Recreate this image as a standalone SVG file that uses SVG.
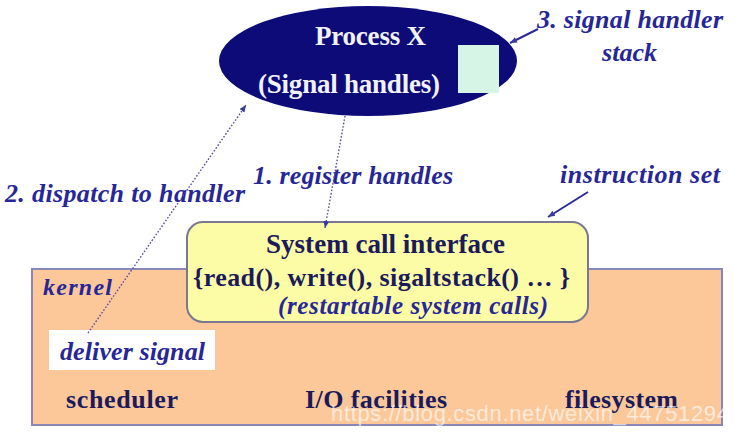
<svg xmlns="http://www.w3.org/2000/svg" width="735" height="437" viewBox="0 0 735 437">
<style>
.dot{fill:none;stroke:#5a4ea8;stroke-width:1.4;stroke-dasharray:1.6 1.8}
.sol{fill:none;stroke:#2a2a9a;stroke-width:2}
</style>
<defs>
<marker id="ah" markerWidth="8" markerHeight="8" refX="7" refY="4" orient="auto" markerUnits="userSpaceOnUse">
<path d="M0,1 L7,4 L0,7 z" fill="#3a3aa0"/>
</marker>
</defs>
<rect width="735" height="437" fill="#ffffff"/>
<g id="kernel">
<rect x="32" y="269" width="690" height="156" fill="#fdc899" stroke="#8a86b8" stroke-width="2"/>
<text font-family="'Liberation Serif', serif" font-weight="bold" font-style="italic" fill="#262698" x="43" y="295" font-size="24" textLength="69">kernel</text>
<text font-family="'Liberation Serif', serif" font-weight="bold" fill="#1a1a5c" x="66" y="408" font-size="26" textLength="112">scheduler</text>
<text font-family="'Liberation Serif', serif" font-weight="bold" fill="#1a1a5c" x="305" y="408" font-size="26" textLength="142">I/O facilities</text>
<text font-family="'Liberation Serif', serif" font-weight="bold" fill="#1a1a5c" x="565" y="408" font-size="26" textLength="113">filesystem</text>
</g>
<g id="deliver">
<rect x="49" y="330" width="166" height="40" fill="#ffffff"/>
<text font-family="'Liberation Serif', serif" font-weight="bold" font-style="italic" fill="#262698" x="60" y="360" font-size="26" textLength="145">deliver signal</text>
</g>
<g id="syscall">
<rect x="187" y="222" width="401" height="100" rx="16" fill="#fdfca6" stroke="#7a7890" stroke-width="2"/>
<text font-family="'Liberation Serif', serif" font-weight="bold" fill="#1a1a5c" x="266" y="253" font-size="27" textLength="239">System call interface</text>
<text font-family="'Liberation Serif', serif" font-weight="bold" fill="#1a1a5c" x="193" y="286" font-size="26" textLength="377">{read(), write(), sigaltstack() &#8230; }</text>
<text font-family="'Liberation Serif', serif" font-weight="bold" font-style="italic" fill="#262698" x="278" y="314" font-size="25" textLength="270">(restartable system calls)</text>
</g>
<g id="process">
<ellipse cx="368" cy="61" rx="149" ry="55" fill="#0c0b78"/>
<text font-family="'Liberation Serif', serif" font-weight="bold" fill="#f2f2fc" x="315" y="45" font-size="27" textLength="111">Process X</text>
<text font-family="'Liberation Serif', serif" font-weight="bold" fill="#f2f2fc" x="258" y="93" font-size="27" textLength="182">(Signal handles)</text>
<rect x="458" y="45" width="41" height="48" fill="#d6f5e6"/>
</g>
<g id="labels">
<text font-family="'Liberation Serif', serif" font-weight="bold" font-style="italic" fill="#262698" x="537" y="28" font-size="26" textLength="186">3. signal handler</text>
<text font-family="'Liberation Serif', serif" font-weight="bold" font-style="italic" fill="#262698" x="602" y="61" font-size="26" textLength="55">stack</text>
<text font-family="'Liberation Serif', serif" font-weight="bold" font-style="italic" fill="#262698" x="560" y="183" font-size="26" textLength="160">instruction set</text>
<text font-family="'Liberation Serif', serif" font-weight="bold" font-style="italic" fill="#262698" x="253" y="184" font-size="26" textLength="200">1. register handles</text>
<text font-family="'Liberation Serif', serif" font-weight="bold" font-style="italic" fill="#262698" x="5" y="202" font-size="26" textLength="240">2. dispatch to handler</text>
</g>
<g id="connectors">
<line class="sol" x1="538" y1="29" x2="510" y2="43" marker-end="url(#ah)"/>
<line class="sol" x1="588" y1="192" x2="548" y2="217" marker-end="url(#ah)"/>
<line class="dot" x1="345" y1="116" x2="325" y2="228" marker-end="url(#ah)"/>
<line class="dot" x1="88" y1="333" x2="246" y2="105" marker-end="url(#ah)"/>
</g>
<text x="331" y="421" font-family="'Liberation Sans', sans-serif" font-size="22" textLength="398" fill="#ffffff" fill-opacity="0.65">https://blog.csdn.net/weixin_44751294</text>
</svg>
